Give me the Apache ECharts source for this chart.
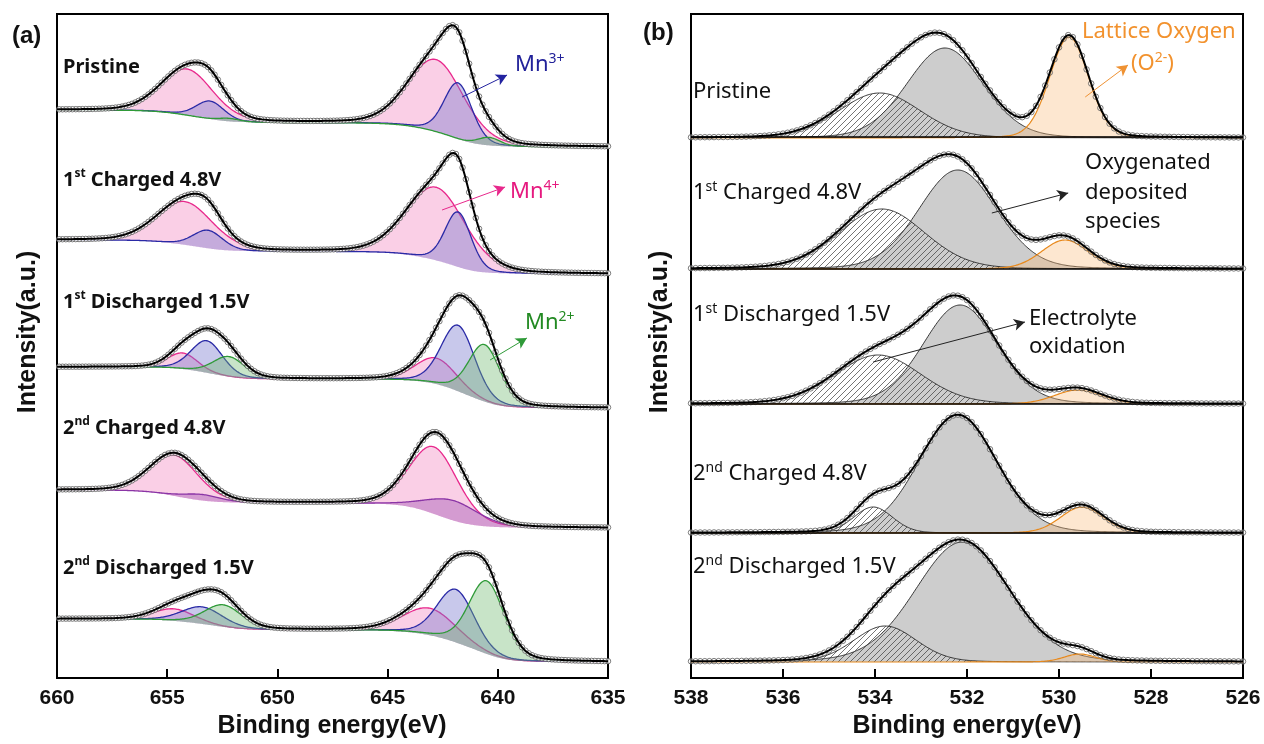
<!DOCTYPE html>
<html><head><meta charset="utf-8">
<script src="https://cdn.jsdelivr.net/npm/echarts@6/dist/echarts.min.js"></script>
<style>html,body{margin:0;padding:0;background:#fff}#c{width:1264px;height:744px}</style>
</head><body><div id="c"></div>
<script>
// ===== Panel (a): Mn 2p =====
const mnTicks = [660, 655, 650, 645, 640, 635];
const mnSamples = ['Pristine', '1{s|st} Charged 4.8V', '1{s|st} Discharged 1.5V', '2{s|nd} Charged 4.8V', '2{s|nd} Discharged 1.5V'];
const mnBgHigh = [568, 438, 311, 188, 59];   // background intensity at 660 eV
const mnBgLow  = [531, 404, 270, 150, 16];   // background intensity at 635 eV
// [E 2p3/2, height, FWHM, E 2p1/2, height, FWHM]
const mn4 = [
  [642.8, 72, 3.0, 654.1, 46, 2.8],
  [642.8, 73, 3.2, 654.2, 43, 3.0],
  [642.8, 26, 2.2, 654.3, 16, 1.6],
  [642.9, 67, 2.6, 654.7, 41, 2.6],
  [643.1, 27, 2.8, 654.7, 12, 2.2]
];
const mn3 = [
  [641.8, 56, 1.5, 653.05, 18, 1.5],
  [641.8, 55, 1.4, 653.15, 18, 1.6],
  [641.8, 66, 1.8, 653.2, 32, 1.7],
  [642.0, 20, 2.8, 653.4, 6, 2.0],
  [641.9, 53, 2.0, 653.4, 17, 2.2]
];
const mn2 = [
  [640.4, 8, 1.2, 652.2, 3, 1.2],
  [640.4, 0, 1.2, 652.2, 0, 1.2],
  [640.6, 57, 1.7, 652.2, 20, 1.7],
  [640.4, 0, 1.2, 652.2, 0, 1.2],
  [640.5, 73, 1.9, 652.45, 22, 2.0]
];
const mnArrows = [ // [E1, I1, E2, I2]
  [641.62, 581, 639.58, 603],
  [642.53, 468, 639.67, 491],
  [640.35, 318, 638.68, 340]
];

// ===== Panel (b): O 1s =====
const oTicks = [538, 536, 534, 532, 530, 528, 526];
const oSamples = ['Pristine', '1{s|st} Charged 4.8V', '1{s|st} Discharged 1.5V', '2{s|nd} Charged 4.8V', '2{s|nd} Discharged 1.5V'];
const oBase = [540, 409, 274, 145, 16];
const oSeparators = [541, 409, 274, 145];
// [E, height, FWHM]
const oElectrolyte = [[533.9, 45, 2.1], [533.85, 60, 2.2], [533.93, 49, 2.2], [534.04, 26, 1.0], [533.78, 36, 1.6]];
const oDeposited   = [[532.48, 90, 1.95], [532.2, 99, 2.0], [532.15, 99, 1.9], [532.2, 118, 2.0], [532.1, 120, 2.4]];
const oLattice     = [[529.78, 101, 1.0], [529.87, 29, 1.2], [529.59, 14, 1.2], [529.5, 26, 1.1], [529.55, 8, 0.8]];
const oArrows = [
  [529.43, 581, 528.5, 613],
  [531.46, 465, 529.8, 485],
  [534.04, 316, 530.74, 356]
];

// ===== helpers =====
function pv(E, c, h, w, m) { const d = (E - c) / w; return h * ((1 - m) * Math.exp(-4 * Math.LN2 * d * d) + m / (1 + 4 * d * d)); }
const EA = []; for (let i = 0; i <= 500; i++) EA.push(+(635 + i * 0.05).toFixed(2));
const EB = []; for (let i = 0; i <= 480; i++) EB.push(+(526 + i * 0.025).toFixed(3));
const MA = 0.2, MB = 0.12;

const series = [];
function ls(ax, data, o) { return Object.assign({ type: 'line', xAxisIndex: ax, yAxisIndex: ax, data, symbol: 'none', silent: true, animation: false }, o); }
// filled component between base curve and base+peak, drawn through the axes' scales
function band(ax, xs, base, top, stroke, fill, lw) {
  return { type: 'custom', xAxisIndex: ax, yAxisIndex: ax, silent: true, animation: false, z: 2, data: [[0]],
    renderItem: function (params, api) {
      const pts = [];
      for (let i = 0; i < xs.length; i++) pts.push(api.coord([xs[i], base[i] + top[i]]));
      for (let i = xs.length - 1; i >= 0; i--) pts.push(api.coord([xs[i], base[i]]));
      const line = [];
      for (let i = 0; i < xs.length; i++) line.push(api.coord([xs[i], base[i] + top[i]]));
      return { type: 'group', children: [
        { type: 'polygon', shape: { points: pts }, style: { fill: fill, stroke: 'none' } },
        { type: 'polyline', shape: { points: line }, style: { fill: 'none', stroke: stroke, lineWidth: lw } }
      ] };
    } };
}

// panel a
mnSamples.forEach((_, s) => {
  const comps = [
    [mn4[s], '#e8288c', 'rgba(242,140,196,0.42)'],
    [mn3[s], s === 3 ? '#8a35a6' : '#2a2aa6', s === 3 ? 'rgba(150,70,175,0.38)' : 'rgba(118,118,205,0.40)'],
    [mn2[s], '#2f9a38', 'rgba(110,185,110,0.38)']
  ].filter(c => c[0][1] > 0);
  const P = comps.map(c => EA.map(E => pv(E, c[0][0], c[0][1], c[0][2], MA) + pv(E, c[0][3], c[0][4], c[0][5], MA)));
  const S = EA.map((E, i) => P.reduce((a, p) => a + p[i], 0));
  const cum = [0]; for (let i = 1; i < EA.length; i++) cum.push(cum[i - 1] + (S[i] + S[i - 1]) / 2);
  const tot = cum[cum.length - 1];
  const B = EA.map((E, i) => mnBgLow[s] + (mnBgHigh[s] - mnBgLow[s]) * cum[i] / tot);
  comps.forEach((c, k) => series.push(band(0, EA, B, P[k], c[1], c[2], 1.3)));
  const env = EA.map((E, i) => [E, B[i] + S[i]]);
  series.push({ type: 'scatter', xAxisIndex: 0, yAxisIndex: 0, silent: true, animation: false, z: 3, symbolSize: 5.5,
    data: env.filter((p, i) => i % 3 === 0), itemStyle: { color: '#fff', borderColor: '#4a4a4a', borderWidth: 0.9 } });
  series.push(ls(0, env, { lineStyle: { color: '#000', width: 2 }, z: 4 }));
});

// hatch pattern
const pat = document.createElement('canvas'); pat.width = pat.height = 6;
(function () { const g = pat.getContext('2d'); g.strokeStyle = '#3a3a3a'; g.lineWidth = 0.7;
  g.beginPath(); g.moveTo(0, 6); g.lineTo(6, 0); g.moveTo(-3, 3); g.lineTo(3, -3); g.moveTo(3, 9); g.lineTo(9, 3); g.stroke(); })();

// panel b
oSeparators.forEach(y => series.push(ls(1, [[538, y], [526, y]], { lineStyle: { color: '#000', width: 1.6 }, z: 5 })));
oSamples.forEach((_, s) => {
  const comps = [
    [oDeposited[s], '#222', '#cdcdcd', 0.9],
    [oElectrolyte[s], '#222', { image: pat, repeat: 'repeat' }, 0.9],
    [oLattice[s], '#e8891c', 'rgba(250,185,120,0.35)', 1.2]
  ];
  const P = comps.map(c => EB.map(E => pv(E, c[0][0], c[0][1], c[0][2], MB)));
  const S = EB.map((E, i) => P.reduce((a, p) => a + p[i], 0));
  const B = EB.map(() => oBase[s]);
  comps.forEach((c, k) => series.push(band(1, EB, B, P[k], c[1], c[2], c[3])));
  const env = EB.map((E, i) => [E, oBase[s] + S[i]]);
  series.push({ type: 'scatter', xAxisIndex: 1, yAxisIndex: 1, silent: true, animation: false, z: 3, symbolSize: 5.5,
    data: env.filter((p, i) => i % 4 === 0), itemStyle: { color: 'rgba(255,255,255,0.5)', borderColor: '#4a4a4a', borderWidth: 0.9 } });
  series.push(ls(1, env, { lineStyle: { color: '#000', width: 2 }, z: 4 }));
});

// arrows
function arrowSeries(ax, arr, colors) {
  return { type: 'line', xAxisIndex: ax, yAxisIndex: ax, data: [], silent: true, animation: false, z: 6,
    markLine: { silent: true, animation: false, symbol: ['none', 'arrow'], symbolSize: [9, 11], label: { show: false },
      data: arr.map((a, i) => [{ coord: [a[0], a[1]], lineStyle: { color: colors[i], width: 1, type: 'solid' }, itemStyle: { color: colors[i] } }, { coord: [a[2], a[3]] }]) } };
}
series.push(arrowSeries(0, mnArrows, ['#2323a0', '#e8288c', '#2f9a38']));
series.push(arrowSeries(1, oArrows, ['#ef9233', '#222', '#222']));

const axisCommon = {
  type: 'value', inverse: true,
  axisLine: { show: true, lineStyle: { color: '#000', width: 2 } },
  axisTick: { show: true, inside: true, length: 9, lineStyle: { color: '#000', width: 2 } },
  axisLabel: { fontSize: 21, fontWeight: 'bold', color: '#111', fontFamily: 'Liberation Sans', margin: 10 },
  splitLine: { show: false }
};
const yCommon = { type: 'value', min: 0, max: 664, show: false };

function txt(x, y, text, family, size, weight, color, align) {
  return { type: 'text', x, y, silent: true, z: 10,
    style: { text, fill: color, fontFamily: family, fontSize: size, fontWeight: weight, align: align || 'left', verticalAlign: 'middle',
      rich: { s: { fontFamily: family, fontSize: Math.round(size * 0.62), fontWeight: weight, fill: color, verticalAlign: 'top', lineHeight: size * 1.2 } } } };
}
const graphics = [];
graphics.push(txt(12, 36, '(a)', 'Liberation Sans', 24, 'bold', '#111'));
graphics.push(txt(643, 33, '(b)', 'Liberation Sans', 24, 'bold', '#111'));
const labelYA = [67, 180, 302, 428, 568];
const labelYB = [92, 193, 315, 474, 567];
mnSamples.forEach((t, i) => graphics.push(txt(63, labelYA[i], t, 'Noto Sans', 20, 'bold', '#111')));
oSamples.forEach((t, i) => graphics.push(txt(693, labelYB[i], t, 'Noto Sans', 22, 'normal', '#111')));
graphics.push(txt(515, 65, 'Mn{s|3+}', 'Noto Sans', 22, 'normal', '#22229a'));
graphics.push(txt(510, 192, 'Mn{s|4+}', 'Noto Sans', 22, 'normal', '#e6197f'));
graphics.push(txt(525, 323, 'Mn{s|2+}', 'Noto Sans', 22, 'normal', '#238a23'));
graphics.push(txt(1082, 32, 'Lattice Oxygen', 'Noto Sans', 22, 'normal', '#f2922e'));
graphics.push(txt(1131, 64, '(O{s|2-})', 'Noto Sans', 22, 'normal', '#f2922e'));
graphics.push(txt(1085, 163, 'Oxygenated', 'Noto Sans', 22, 'normal', '#111'));
graphics.push(txt(1085, 193, 'deposited', 'Noto Sans', 22, 'normal', '#111'));
graphics.push(txt(1085, 222, 'species', 'Noto Sans', 22, 'normal', '#111'));
graphics.push(txt(1029, 319, 'Electrolyte', 'Noto Sans', 22, 'normal', '#111'));
graphics.push(txt(1029, 347, 'oxidation', 'Noto Sans', 22, 'normal', '#111'));
[28, 660].forEach(x => graphics.push({ type: 'text', x, y: 332, rotation: Math.PI / 2, silent: true, z: 10,
  style: { text: 'Intensity(a.u.)', fill: '#111', fontFamily: 'Liberation Sans', fontSize: 25, fontWeight: 'bold', align: 'center', verticalAlign: 'middle' } }));
[332, 967].forEach(x => graphics.push({ type: 'text', x, y: 726, silent: true, z: 10,
  style: { text: 'Binding energy(eV)', fill: '#111', fontFamily: 'Liberation Sans', fontSize: 25, fontWeight: 'bold', align: 'center', verticalAlign: 'middle' } }));

const chart = echarts.init(document.getElementById('c'), null, { renderer: 'canvas' });
chart.setOption({
  animation: false,
  backgroundColor: '#fff',
  grid: [
    { left: 57, top: 14, width: 551, height: 664, show: true, borderColor: '#000', borderWidth: 2, backgroundColor: 'transparent' },
    { left: 691, top: 14, width: 552, height: 664, show: true, borderColor: '#000', borderWidth: 2, backgroundColor: 'transparent' }
  ],
  xAxis: [
    Object.assign({}, axisCommon, { gridIndex: 0, min: mnTicks[5], max: mnTicks[0], interval: 5 }),
    Object.assign({}, axisCommon, { gridIndex: 1, min: oTicks[6], max: oTicks[0], interval: 2 })
  ],
  yAxis: [Object.assign({ gridIndex: 0 }, yCommon), Object.assign({ gridIndex: 1 }, yCommon)],
  series,
  graphic: graphics
});
</script></body></html>
